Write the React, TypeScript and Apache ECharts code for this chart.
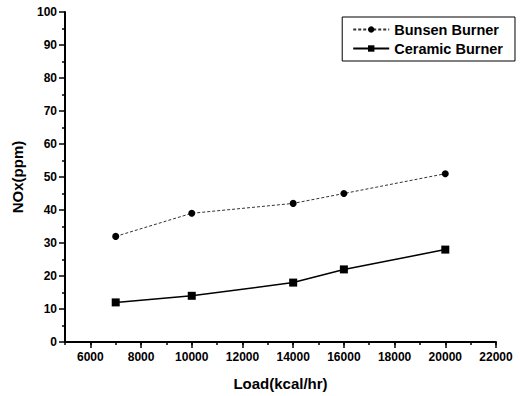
import React, { useEffect, useRef } from "react";
import * as echarts from "echarts";

const loads = [7000, 10000, 14000, 16000, 20000];
const bunsen = [32, 39, 42, 45, 51];
const ceramic = [12, 14, 18, 22, 28];
const seriesNames = ["Bunsen Burner", "Ceramic Burner"];
const xTicks = [6000, 8000, 10000, 12000, 14000, 16000, 18000, 20000, 22000];
const xTitle = "Load(kcal/hr)";
const yTitle = "NOx(ppm)";

const FONT = "'Liberation Sans', Arial, sans-serif";

export default function App() {
  const ref = useRef<HTMLDivElement>(null);
  useEffect(() => {
    if (!ref.current) return;
    const chart = echarts.init(ref.current, null, { renderer: "svg" });
    const titleStyle = { fontSize: 15, fontWeight: "bold", color: "#000", fontFamily: FONT };
    chart.setOption({
      animation: false,
      backgroundColor: "#fff",
      textStyle: { fontFamily: FONT },
      grid: { left: 65, right: 24, top: 12, bottom: 54, containLabel: false },
      legend: {
        right: 5,
        top: 17,
        orient: "vertical",
        backgroundColor: "#fff",
        borderColor: "#000",
        borderWidth: 1,
        borderRadius: 0,
        padding: [5, 12, 5, 10],
        itemGap: 4,
        itemWidth: 36,
        itemHeight: 8,
        textStyle: { fontSize: 14.5, fontWeight: "bold", color: "#000", fontFamily: FONT },
        data: seriesNames,
      },
      xAxis: [
        {
          type: "value",
          min: 5000,
          max: 22000,
          interval: 1000,
          name: xTitle,
          nameLocation: "middle",
          nameGap: 34,
          nameTextStyle: titleStyle,
          axisLine: { show: true, lineStyle: { color: "#000", width: 2 } },
          axisTick: { show: true, length: 6, customValues: xTicks, lineStyle: { color: "#000", width: 1.5 } },
          splitLine: { show: false },
          axisLabel: {
            fontSize: 12,
            fontWeight: "bold",
            color: "#000",
            margin: 9,
            fontFamily: FONT,
            customValues: xTicks,
            formatter: (v: number) => String(v),
          },
        },
        {
          type: "value",
          min: 5000,
          max: 22000,
          interval: 1000,
          position: "bottom",
          axisLine: { show: false },
          axisTick: { show: true, length: 3, lineStyle: { color: "#000", width: 1.5 } },
          axisLabel: { show: false },
          splitLine: { show: false },
        },
      ],
      yAxis: {
        type: "value",
        min: 0,
        max: 100,
        interval: 10,
        name: yTitle,
        nameLocation: "middle",
        nameGap: 40,
        nameTextStyle: titleStyle,
        axisLine: { show: true, lineStyle: { color: "#000", width: 2 } },
        axisTick: { show: true, length: 6, lineStyle: { color: "#000", width: 1.5 } },
        minorTick: { show: true, splitNumber: 2, length: 3, lineStyle: { color: "#000", width: 1.5 } },
        splitLine: { show: false },
        axisLabel: { fontSize: 12, fontWeight: "bold", color: "#000", margin: 8, fontFamily: FONT },
      },
      series: [
        {
          name: seriesNames[0],
          type: "line",
          xAxisIndex: 0,
          data: loads.map((x, i) => [x, bunsen[i]]),
          symbol: "circle",
          symbolSize: 7,
          itemStyle: { color: "#000" },
          lineStyle: { color: "#333", width: 1, type: [3, 2] },
        },
        {
          name: seriesNames[1],
          type: "line",
          xAxisIndex: 0,
          data: loads.map((x, i) => [x, ceramic[i]]),
          symbol: "rect",
          symbolSize: 8,
          itemStyle: { color: "#000" },
          lineStyle: { color: "#000", width: 1.5, type: "solid" },
        },
      ],
    });
    return () => chart.dispose();
  }, []);
  return (
    <div
      ref={ref}
      style={{ position: "fixed", left: 0, top: 0, width: 520, height: 396 }}
    />
  );
}
